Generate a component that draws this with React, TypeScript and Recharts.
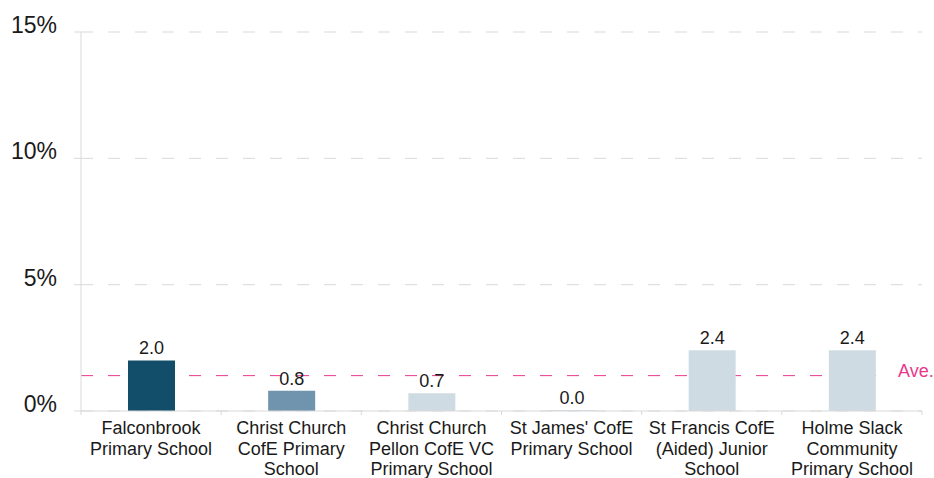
import {
  BarChart,
  Bar,
  XAxis,
  YAxis,
  CartesianGrid,
  ReferenceLine,
  LabelList,
  Cell,
} from "recharts";

const schools = [
  "Falconbrook\nPrimary School",
  "Christ Church\nCofE Primary\nSchool",
  "Christ Church\nPellon CofE VC\nPrimary School",
  "St James' CofE\nPrimary School",
  "St Francis CofE\n(Aided) Junior\nSchool",
  "Holme Slack\nCommunity\nPrimary School",
];
const rates = [2.0, 0.8, 0.7, 0.0, 2.4, 2.4];
const yTicks = [0, 5, 10, 15];
const average = 1.4;

const barColors = ["#124e6a", "#7094ae", "#cfdbe3", "#cfdbe3", "#cfdbe3", "#cfdbe3"];
const FONT = "'Liberation Sans', Arial, sans-serif";
const AXIS = "#d9d9d9";
const PINK = "#e8388c";

const data = schools.map((name, i) => ({ name, rate: rates[i] }));

function SchoolTick(props: any) {
  const { x, y, payload, index } = props;
  const half = payload?.offset ?? 70;
  const lines = String(payload.value).split("\n");
  return (
    <g>
      <line x1={x - half} x2={x - half} y1={y} y2={y + 4} stroke={AXIS} />
      {index === schools.length - 1 && (
        <line x1={x + half} x2={x + half} y1={y} y2={y + 4} stroke={AXIS} />
      )}
      <text x={x} y={y} textAnchor="middle" fontSize={18} fill="#1a1a1a" fontFamily={FONT}>
        {lines.map((l, i) => (
          <tspan key={i} x={x} dy={i === 0 ? 23 : 20.5}>
            {l}
          </tspan>
        ))}
      </text>
    </g>
  );
}

function PctTick(props: any) {
  const { x, y, payload } = props;
  return (
    <text x={x} y={y + 1} textAnchor="end" fontSize={23} fill="#1a1a1a" fontFamily={FONT}>
      {`${payload.value}%`}
    </text>
  );
}

function AveLabel(props: any) {
  const { viewBox } = props;
  const right = viewBox.x + viewBox.width;
  return (
    <g>
      <rect x={right - 34} y={viewBox.y - 3} width={34} height={6} fill="#fff" />
      <text x={right - 24} y={viewBox.y + 1.5} fontSize={18} fill={PINK} fontFamily={FONT}>
        Ave.
      </text>
    </g>
  );
}

export default function App() {
  return (
    <div style={{ position: "absolute", left: 0, top: 0, background: "#fff" }}>
      <BarChart
        width={934}
        height={478}
        data={data}
        margin={{ top: 32, right: 12, bottom: 0, left: 0 }}
      >
        <CartesianGrid vertical={false} stroke={AXIS} strokeDasharray="12 15" />
        <XAxis
          dataKey="name"
          interval={0}
          height={67}
          stroke={AXIS}
          tickLine={false}
          tickSize={0}
          tickMargin={0}
          tick={<SchoolTick />}
        />
        <YAxis
          width={81}
          domain={[0, 15]}
          ticks={yTicks}
          stroke={AXIS}
          tickSize={7}
          tickMargin={17}
          tick={<PctTick />}
        />
        <ReferenceLine
          y={average}
          stroke={PINK}
          strokeDasharray="12 15"
          zIndex={100}
          label={<AveLabel />}
        />
        <Bar
          dataKey="rate"
          barSize={47}
          minPointSize={1}
          isAnimationActive={false}
        >
          {data.map((d, i) => (
            <Cell key={d.name} fill={barColors[i]} />
          ))}
          <LabelList
            dataKey="rate"
            position="top"
            offset={6}
            fontSize={18}
            fill="#1a1a1a"
            fontFamily={FONT}
            formatter={(v: any) => Number(v).toFixed(1)}
          />
        </Bar>
      </BarChart>
    </div>
  );
}
